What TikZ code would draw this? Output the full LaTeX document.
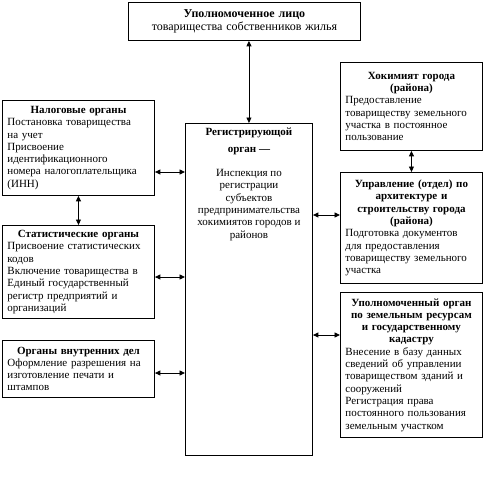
\documentclass[tikz,border=0pt]{standalone}
\usepackage{fontspec}
\setmainfont{Liberation Serif}
\usetikzlibrary{arrows.meta}

\begin{document}
\begin{tikzpicture}[x=1pt, y=-1pt,
    box/.style={rectangle, draw, line width=0.9pt, anchor=north west, inner xsep=5pt, inner ysep=3pt, font=\fontsize{11}{12.3}\selectfont},
    link/.style={{Triangle[length=5.5pt,width=5pt]}-{Triangle[length=5.5pt,width=5pt]}, line width=0.9pt}
]
    \useasboundingbox (0,0) rectangle (484,482);

    % Top box
    \node[box, text width=222pt, minimum height=38pt, font=\fontsize{12}{12.5}\selectfont] (upl) at (128,2)
        {\centering{\bfseries Уполномоченное лицо}\\товарищества собственников жилья\par};

    % Central registering body
    \node[box, minimum width=127pt, minimum height=332pt] (reg) at (185,123)
        {\parbox[t][324pt][t]{117pt}{\centering
         {\bfseries Регистрирующой\\[5pt]орган ---}\\[12pt]
         Инспекция по\\регистрации\\субъектов\\предпринимательства\\хокимиятов городов и\\районов\par}};

    % Left column
    \node[box, text width=142pt, minimum height=95pt] (nal) at (2,100)
        {{\centering\bfseries Налоговые органы\par}\raggedright
         Постановка товарищества\\на учет\\Присвоение\\идентификационного\\номера налогоплательщика\\(ИНН)\par};
    \node[box, text width=142pt, minimum height=93pt] (stat) at (2,225)
        {{\centering\bfseries Статистические органы\par}\raggedright
         Присвоение статистических\\кодов\\Включение товарищества в\\Единый государственный\\регистр предприятий и\\организаций\par};
    \node[box, text width=142pt, minimum height=57pt] (ovd) at (2,340)
        {{\centering\bfseries Органы внутренних дел\par}\raggedright
         Оформление разрешения на\\изготовление печати и\\штампов\par};

    % Right column
    \node[box, text width=132pt, minimum height=88pt] (hok) at (340,62)
        {{\centering\bfseries Хокимият города\\(района)\par}\raggedright
         Предоставление\\товариществу земельного\\участка в постоянное\\пользование\par};
    \node[box, text width=132pt, minimum height=111pt] (upr) at (340,172)
        {{\centering\bfseries Управление (отдел) по\\архитектуре и\\строительству города\\(района)\par}\raggedright
         Подготовка документов\\для предоставления\\товариществу земельного\\участка\par};
    \node[box, text width=132pt, minimum height=145pt] (zem) at (340,292)
        {{\centering\bfseries Уполномоченный орган\\по земельным ресурсам\\и государственному\\кадастру\par}\raggedright
         Внесение в базу данных\\сведений об управлении\\товариществом зданий и\\сооружений\\Регистрация права\\постоянного пользования\\земельным участком\par};

    % Connections
    \draw[link] (upl.south -| reg.north) -- (reg.north);
    \draw[link] (nal.south) -- (stat.north);
    \draw[link] (hok.south) -- (upr.north);
    \draw[link] (nal.east |- 0,172) -- (reg.west |- 0,172);
    \draw[link] (stat.east |- 0,277) -- (reg.west |- 0,277);
    \draw[link] (ovd.east |- 0,373) -- (reg.west |- 0,373);
    \draw[link] (reg.east |- 0,215) -- (upr.west |- 0,215);
    \draw[link] (reg.east |- 0,335) -- (zem.west |- 0,335);
\end{tikzpicture}
\end{document}
